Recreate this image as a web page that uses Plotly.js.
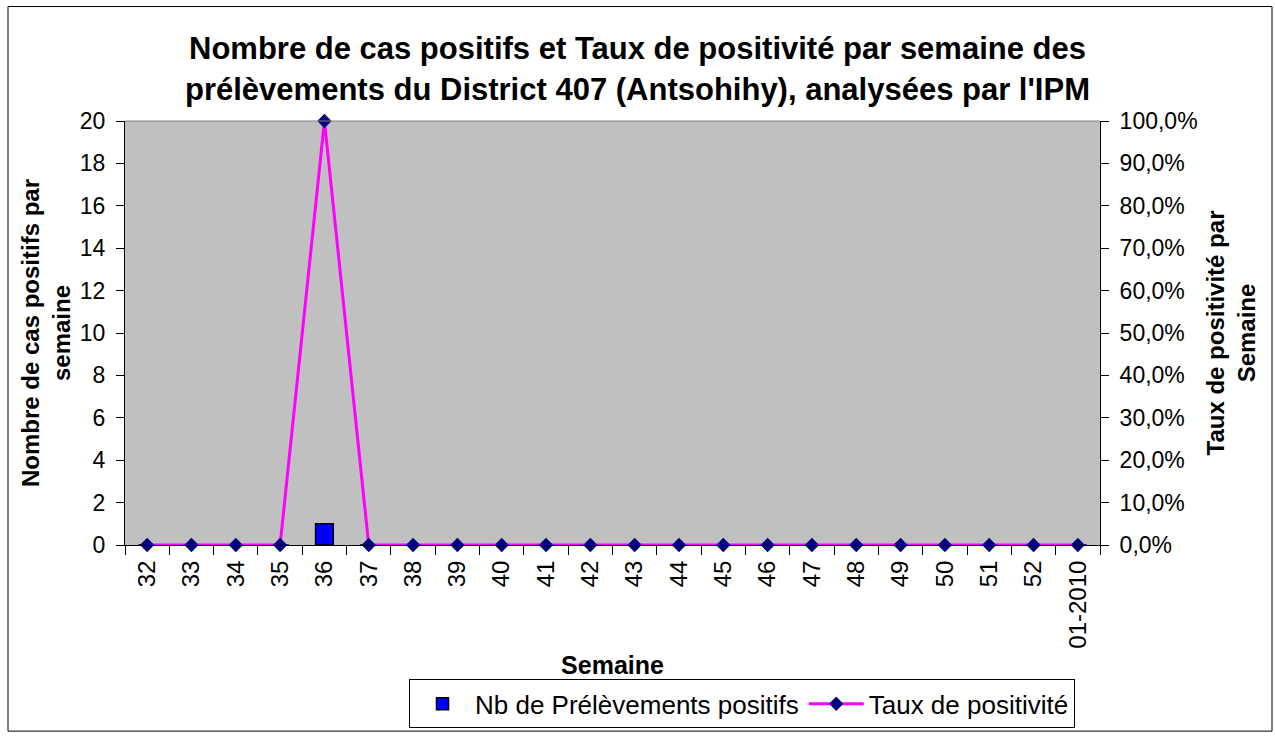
<!DOCTYPE html>
<html><head><meta charset="utf-8">
<script src="https://cdn.plot.ly/plotly-3.0.1.min.js"></script>
<style>body{margin:0;background:#fff}#c{width:1275px;height:740px}</style>
</head><body><div id="c"></div>
<script>
const weeks = ['32','33','34','35','36','37','38','39','40','41','42','43','44','45','46','47','48','49','50','51','52','01-2010'];
const positives = [0,0,0,0,1,0,0,0,0,0,0,0,0,0,0,0,0,0,0,0,0,0];
const taux = [0,0,0,0,1,0,0,0,0,0,0,0,0,0,0,0,0,0,0,0,0,0];
const leftTicks = [0,2,4,6,8,10,12,14,16,18,20];
const rightTicks = [0,0.1,0.2,0.3,0.4,0.5,0.6,0.7,0.8,0.9,1];

const F = 'Liberation Sans, Arial, sans-serif';
const L = {l:125, r:175, t:121, b:193};
const pw = 1275 - L.l - L.r, ph = 740 - L.t - L.b;
const px = v => (v - L.l) / pw;
const py = v => (740 - L.b - v) / ph;

const traces = [
  {type:'bar', x:weeks, y:positives, name:'Nb de Prélèvements positifs', width:0.4,
   marker:{color:'#0000FF', line:{color:'#000', width:1.5}}},
  {type:'scatter', mode:'lines+markers', x:weeks, y:taux, yaxis:'y2', name:'Taux de positivité',
   line:{color:'#FF00FF', width:3}, marker:{symbol:'diamond', color:'#000080', size:11},
   cliponaxis:false}
];

const layout = {
  width:1275, height:740, margin:L, paper_bgcolor:'#fff', plot_bgcolor:'#C0C0C0',
  separators:', ', showlegend:true,
  title:{text:"Nombre de cas positifs et Taux de positivité par semaine des<br>prélèvements du District 407 (Antsohihy), analysées par l'IPM",
    font:{family:F, size:31, color:'#000', weight:'bold'}, x:0.5, xref:'container', yref:'container', y:0.92, yanchor:'top'},
  xaxis:{type:'category', range:[-0.5, weeks.length-0.5], tickangle:-90, tickfont:{family:F, size:24, color:'#000'},
    ticks:'outside', tickson:'boundaries', ticklen:9, tickcolor:'#000', ticklabelstandoff:5,
    showline:true, linecolor:'#000', linewidth:1, showgrid:false, zeroline:false,
    title:{text:'Semaine', font:{family:F, size:25, weight:'bold', color:'#000'}, standoff:8}},
  yaxis:{range:[0,20], tickvals:leftTicks, tickfont:{family:F, size:23, color:'#000'},
    ticks:'outside', ticklen:8, tickcolor:'#000', ticklabelstandoff:6, showline:true, linecolor:'#000', linewidth:1,
    showgrid:false, zeroline:false,
    title:{text:'Nombre de cas positifs par<br>semaine', font:{family:F, size:24, weight:'bold', color:'#000'}, standoff:2}},
  yaxis2:{range:[0,1], overlaying:'y', side:'right', tickvals:rightTicks, tickformat:'.1%',
    tickfont:{family:F, size:23, color:'#000'}, ticks:'outside', ticklen:8, tickcolor:'#000', ticklabelstandoff:6,
    showline:true, linecolor:'#000', linewidth:1, showgrid:false, zeroline:false,
    title:{text:'Taux de positivité par<br>Semaine', font:{family:F, size:24, weight:'bold', color:'#000'}, standoff:10}},
  legend:{orientation:'h', x:px(409), xanchor:'left', y:py(682), yanchor:'top', itemwidth:55,
    bordercolor:'#000', borderwidth:1, bgcolor:'#fff', font:{family:F, size:26, color:'#000'}},
  shapes:[
    {type:'rect', xref:'paper', yref:'paper', x0:px(8), x1:px(1272), y0:py(734), y1:py(6),
     line:{color:'#000', width:1}, layer:'below'},
    {type:'line', xref:'paper', yref:'paper', x0:0, x1:1, y0:1, y1:1, line:{color:'#808080', width:1}}
  ]
};
Plotly.newPlot('c', traces, layout, {displayModeBar:false});
</script></body></html>
